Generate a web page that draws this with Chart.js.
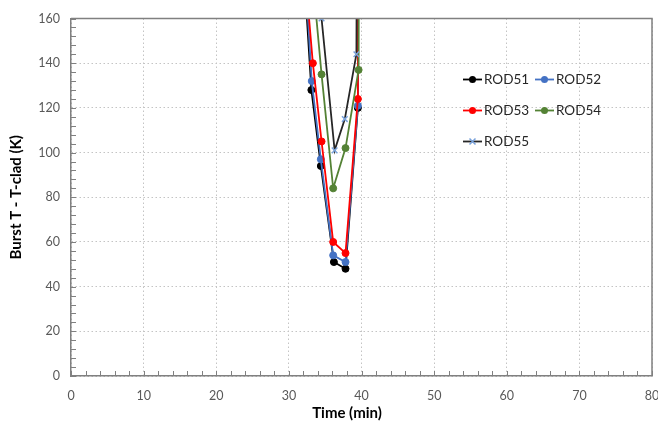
<!DOCTYPE html>
<html>
<head>
<meta charset="utf-8">
<script src="https://cdn.jsdelivr.net/npm/chart.js@4.4.0/dist/chart.umd.min.js"></script>
<style>
  html, body { margin: 0; padding: 0; background: #fff; }
  #wrap { position: relative; width: 658px; height: 425px; }
</style>
</head>
<body>
<div id="wrap"><canvas id="myChart"></canvas></div>
<script>
/* DATA (time in min, value in K) - last points are off the top of the chart */
const seriesNames = ['ROD51', 'ROD52', 'ROD53', 'ROD54', 'ROD55'];

const rod51Time = [31.6, 33.1, 34.4, 36.2, 37.8, 39.5, 39.7];
const rod51Val  = [206, 128, 94, 51, 48, 120, 400];

const rod52Time = [31.6, 33.15, 34.4, 36.1, 37.8, 39.5, 39.7];
const rod52Val  = [216, 132, 97, 54, 51, 121, 400];

const rod53Time = [31.6, 33.3, 34.5, 36.1, 37.8, 39.5, 39.7];
const rod53Val  = [205, 140, 105, 60, 55, 124, 400];

const rod54Time = [33.2, 34.5, 36.1, 37.8, 39.6, 39.8];
const rod54Val  = [181, 135, 84, 102, 137, 400];

const rod55Time = [33.2, 34.5, 36.3, 37.7, 39.3, 39.6];
const rod55Val  = [260, 160, 101, 115, 144, 400];

const xTicks = [0, 10, 20, 30, 40, 50, 60, 70, 80];
const yTicks = [0, 20, 40, 60, 80, 100, 120, 140, 160];

/* STYLE */
const lineColors   = ['#000000', '#4472c4', '#ff0000', '#548235', '#262626'];
const markerColors = ['#000000', '#4472c4', '#ff0000', '#548235', '#7aa3dc'];
const markerStyles = ['circle', 'circle', 'circle', 'circle', 'crossRot'];
const FONT = 'Lato, "Open Sans", sans-serif';

function toPoints(t, v) {
    return t.map((x, i) => ({ x: x, y: v[i] }));
}

const allTimes = [rod51Time, rod52Time, rod53Time, rod54Time, rod55Time];
const allVals  = [rod51Val, rod52Val, rod53Val, rod54Val, rod55Val];

const datasets = seriesNames.map((name, i) => ({
    label: name,
    data: toPoints(allTimes[i], allVals[i]),
    borderColor: lineColors[i],
    backgroundColor: markerColors[i],
    pointBorderColor: markerColors[i],
    pointBackgroundColor: markerColors[i],
    pointStyle: markerStyles[i],
    pointRadius: markerStyles[i] === 'crossRot' ? 4 : 3.5,
    pointBorderWidth: markerStyles[i] === 'crossRot' ? 1.5 : 1,
    borderWidth: 1.8,
    tension: 0,
    order: seriesNames.length - i
}));

/* PLUGINS */
const frameAndTicks = {
    id: 'frameAndTicks',
    afterDraw(chart) {
        const {ctx, chartArea: a, scales: {x, y}} = chart;
        ctx.save();
        // minor/major inward tick marks
        ctx.strokeStyle = '#808080';
        ctx.lineWidth = 1;
        ctx.beginPath();
        for (let v = 0; v <= 80; v += 2) {
            const px = Math.round(x.getPixelForValue(v)) + 0.5;
            ctx.moveTo(px, a.bottom);
            ctx.lineTo(px, a.bottom - 5);
        }
        for (let v = 0; v <= 160; v += 4) {
            const py = Math.round(y.getPixelForValue(v)) + 0.5;
            ctx.moveTo(a.left, py);
            ctx.lineTo(a.left + 5, py);
        }
        ctx.stroke();
        // top and right frame
        ctx.strokeStyle = '#808080';
        ctx.lineWidth = 1.5;
        ctx.beginPath();
        ctx.moveTo(a.left, a.top);
        ctx.lineTo(a.right, a.top);
        ctx.lineTo(a.right, a.bottom);
        ctx.stroke();

        // x axis title
        ctx.fillStyle = '#000';
        ctx.font = 'bold 15px ' + FONT;
        ctx.textAlign = 'center';
        ctx.textBaseline = 'middle';
        ctx.fillText('Time (min)', 347, 413);

        // legend inside plot
        ctx.font = '13.5px ' + FONT;
        ctx.textAlign = 'left';
        chart.data.datasets.forEach((ds, i) => {
            const col = i % 2, row = Math.floor(i / 2);
            const x0 = 463 + col * 72;
            const y0 = 79.5 + row * 31;
            ctx.strokeStyle = ds.borderColor;
            ctx.lineWidth = 1.8;
            ctx.beginPath();
            ctx.moveTo(x0, y0);
            ctx.lineTo(x0 + 19, y0);
            ctx.stroke();
            const mx = x0 + 9.5;
            if (ds.pointStyle === 'crossRot') {
                ctx.strokeStyle = ds.pointBorderColor;
                ctx.lineWidth = 1.5;
                ctx.beginPath();
                ctx.moveTo(mx - 3, y0 - 3); ctx.lineTo(mx + 3, y0 + 3);
                ctx.moveTo(mx - 3, y0 + 3); ctx.lineTo(mx + 3, y0 - 3);
                ctx.stroke();
            } else {
                ctx.fillStyle = ds.pointBackgroundColor;
                ctx.beginPath();
                ctx.arc(mx, y0, 3.5, 0, Math.PI * 2);
                ctx.fill();
            }
            ctx.fillStyle = '#262626';
            ctx.fillText(ds.label, x0 + 21, y0 + 0.5);
        });
        ctx.restore();
    }
};

/* CHART */
const config = {
    type: 'line',
    data: { datasets: datasets },
    options: {
        responsive: true,
        maintainAspectRatio: false,
        animation: false,
        layout: { padding: { top: 16, right: 6, left: 0, bottom: 0 } },
        plugins: {
            legend: { display: false },
            tooltip: { enabled: false }
        },
        scales: {
            x: {
                type: 'linear',
                min: 0,
                max: 80,
                afterBuildTicks: (s) => { s.ticks = xTicks.map(v => ({ value: v })); },
                afterFit: (s) => { s.height = 49; s.paddingLeft = 0; s.paddingRight = 0; },
                grid: { color: '#c4c4c4', lineWidth: 1, drawTicks: false },
                border: { color: '#808080', width: 1.5, dash: [1.5, 2.5] },
                ticks: { color: '#595959', padding: 12, font: { family: FONT, size: 12.5 } },
                title: { display: false }
            },
            y: {
                min: 0,
                max: 160,
                afterBuildTicks: (s) => { s.ticks = yTicks.map(v => ({ value: v })); },
                afterFit: (s) => { s.width = 71; },
                grid: { color: '#c4c4c4', lineWidth: 1, drawTicks: false },
                border: { color: '#808080', width: 1.5, dash: [1.5, 2.5] },
                ticks: { color: '#595959', padding: 11, font: { family: FONT, size: 12.5 } },
                title: {
                    display: true,
                    text: 'Burst T - T-clad (K)',
                    color: '#000',
                    font: { family: FONT, size: 15, weight: 'bold' },
                    padding: { top: 7, bottom: 0 }
                }
            }
        }
    },
    plugins: [frameAndTicks]
};

let myChart = new Chart(
    document.getElementById('myChart'),
    config
);
</script>
</body>
</html>
